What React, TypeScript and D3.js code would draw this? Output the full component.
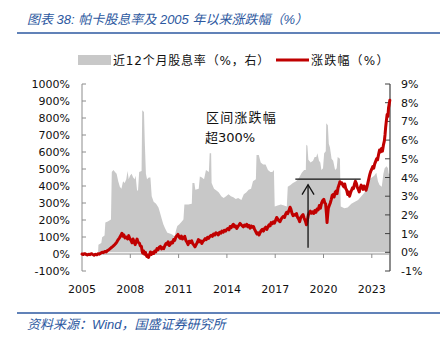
import React from 'react';
import * as d3 from 'd3';

const yearTicks = [2005, 2008, 2011, 2014, 2017, 2020, 2023];
const leftTicks = d3.range(-100, 1001, 100);
const rightTicks = d3.range(-1, 10, 1);

const titleText = '图表 38:  帕卡股息率及 2005 年以来涨跌幅（%）';
const sourceText = '资料来源：Wind，国盛证券研究所';
const legendYield = '近12个月股息率（%，右）';
const legendChange = '涨跌幅（%）';
const noteLine1 = '区间涨跌幅';
const noteLine2 = '超300%';

// [decimal year, dividend yield %] (right axis)
const dividendYield: [number, number][] = [
  [2006.0, 0], [2006.02, 0.4], [2006.2, 0.5], [2006.25, 0.8], [2006.4, 0.9], [2006.45, 1.6],
  [2006.6, 1.65], [2006.8, 1.75], [2006.85, 4.3], [2006.95, 4.4], [2007.05, 4.3], [2007.15, 4.2],
  [2007.25, 3.8], [2007.35, 3.5], [2007.45, 3.4], [2007.55, 3.8], [2007.65, 3.7], [2007.75, 3.9],
  [2007.83, 4.35], [2007.9, 3.9], [2007.98, 4.1], [2008.08, 4.2], [2008.18, 4.0], [2008.27, 3.9],
  [2008.33, 4.1], [2008.42, 3.3], [2008.48, 3.3], [2008.55, 4.3], [2008.7, 4.35], [2008.74, 7.6],
  [2008.85, 7.5], [2008.9, 5.9], [2008.97, 4.2], [2009.04, 3.9], [2009.15, 4.0], [2009.25, 4.0],
  [2009.33, 3.0], [2009.45, 2.7], [2009.6, 2.6], [2009.75, 2.4], [2009.85, 2.1], [2009.95, 1.8],
  [2010.05, 1.5], [2010.15, 1.3], [2010.3, 1.05], [2010.45, 1.0], [2010.6, 0.95], [2010.75, 0.85],
  [2010.85, 1.2], [2010.92, 1.4], [2011.05, 1.5], [2011.2, 1.65], [2011.3, 1.75], [2011.36, 2.55],
  [2011.6, 2.55], [2011.82, 2.6], [2011.86, 3.7], [2011.98, 3.7], [2012.04, 3.35], [2012.25, 3.4],
  [2012.32, 4.05], [2012.45, 4.0], [2012.58, 3.9], [2012.7, 4.4], [2012.88, 4.3], [2012.93, 5.3],
  [2013.02, 5.3], [2013.05, 3.7], [2013.2, 3.4], [2013.35, 3.3], [2013.5, 3.2], [2013.65, 3.0],
  [2013.8, 2.9], [2013.95, 3.0], [2014.1, 3.1], [2014.25, 3.0], [2014.4, 2.95], [2014.55, 2.85],
  [2014.7, 2.9], [2014.9, 2.8], [2015.05, 3.1], [2015.2, 3.2], [2015.35, 3.35], [2015.5, 3.4],
  [2015.62, 3.8], [2015.8, 3.9], [2015.84, 5.2], [2015.98, 5.2], [2016.1, 4.8], [2016.25, 4.7],
  [2016.4, 4.7], [2016.55, 4.4], [2016.7, 4.3], [2016.82, 4.3], [2016.92, 4.4], [2016.97, 2.45],
  [2017.15, 2.5], [2017.35, 2.55], [2017.55, 2.5], [2017.72, 2.45], [2017.78, 3.5], [2017.95, 3.6],
  [2018.1, 3.7], [2018.3, 3.8], [2018.42, 3.9], [2018.55, 4.1], [2018.65, 4.25], [2018.8, 4.4],
  [2018.9, 4.4], [2018.93, 5.75], [2019.0, 5.7], [2019.06, 4.95], [2019.2, 4.8], [2019.35, 4.9],
  [2019.45, 5.1], [2019.55, 5.1], [2019.62, 5.3], [2019.72, 4.9], [2019.8, 4.8], [2019.87, 4.4],
  [2019.97, 4.5], [2020.04, 5.3], [2020.14, 5.4], [2020.17, 6.9], [2020.27, 6.8], [2020.33, 5.8],
  [2020.4, 5.6], [2020.5, 5.0], [2020.6, 4.9], [2020.72, 4.4], [2020.82, 4.5], [2020.88, 5.1],
  [2021.02, 5.0], [2021.07, 2.45], [2021.3, 2.35], [2021.5, 2.4], [2021.73, 2.6], [2021.95, 2.7],
  [2022.15, 2.8], [2022.35, 3.0], [2022.55, 3.2], [2022.7, 3.5], [2022.85, 3.9], [2023.0, 4.0],
  [2023.15, 4.1], [2023.28, 4.25], [2023.38, 3.8], [2023.48, 3.6], [2023.62, 3.5], [2023.72, 4.2],
  [2023.8, 4.5], [2023.92, 4.6], [2024.0, 4.5], [2024.05, 4.2], [2024.13, 4.2],
];

// [decimal year, cumulative price change % since 2005] (left axis)
const priceChange: [number, number][] = [
  [2005.0, 0], [2005.08, -3], [2005.17, 2], [2005.25, -2], [2005.33, -6], [2005.42, -1],
  [2005.5, -4], [2005.58, 2], [2005.67, -3], [2005.75, -7], [2005.83, -2], [2005.92, -5],
  [2006.0, 2], [2006.08, -1], [2006.17, 6], [2006.25, 10], [2006.33, 8], [2006.42, 15],
  [2006.5, 12], [2006.58, 20], [2006.67, 25], [2006.75, 32], [2006.83, 38], [2006.92, 45],
  [2007.0, 52], [2007.08, 60], [2007.17, 72], [2007.25, 85], [2007.33, 95], [2007.42, 110],
  [2007.48, 122], [2007.54, 105], [2007.6, 112], [2007.67, 95], [2007.75, 100], [2007.83, 88],
  [2007.9, 108], [2007.96, 92], [2008.04, 80], [2008.11, 66], [2008.17, 88], [2008.23, 75],
  [2008.3, 55], [2008.36, 72], [2008.42, 88], [2008.48, 70], [2008.56, 64], [2008.62, 48],
  [2008.69, 45], [2008.73, 20], [2008.77, 5], [2008.83, 18], [2008.89, -2], [2008.95, 8],
  [2009.02, -14], [2009.08, -8], [2009.13, -20], [2009.19, -4], [2009.25, 12], [2009.32, -2],
  [2009.38, 8], [2009.45, 3], [2009.52, 18], [2009.58, 12], [2009.66, 32], [2009.73, 25],
  [2009.8, 40], [2009.87, 45], [2009.94, 30], [2010.02, 38], [2010.08, 32], [2010.15, 50],
  [2010.22, 62], [2010.28, 58], [2010.35, 72], [2010.42, 50], [2010.49, 58], [2010.56, 70],
  [2010.63, 65], [2010.69, 85], [2010.76, 80], [2010.83, 100], [2010.9, 108], [2010.96, 115],
  [2011.03, 100], [2011.1, 92], [2011.17, 105], [2011.24, 88], [2011.31, 95], [2011.38, 104],
  [2011.45, 80], [2011.52, 70], [2011.59, 55], [2011.66, 75], [2011.73, 68], [2011.81, 78],
  [2011.88, 60], [2011.95, 52], [2012.02, 42], [2012.09, 55], [2012.16, 68], [2012.23, 85],
  [2012.3, 72], [2012.37, 78], [2012.44, 62], [2012.51, 75], [2012.58, 80], [2012.65, 90],
  [2012.72, 85], [2012.8, 98], [2012.87, 92], [2012.95, 105], [2013.03, 110], [2013.1, 104],
  [2013.17, 118], [2013.25, 112], [2013.32, 125], [2013.4, 120], [2013.47, 112], [2013.55, 128],
  [2013.62, 122], [2013.69, 135], [2013.77, 128], [2013.84, 140], [2013.92, 135], [2013.99, 145],
  [2014.06, 150], [2014.13, 142], [2014.2, 162], [2014.27, 155], [2014.34, 168], [2014.4, 175],
  [2014.47, 160], [2014.54, 165], [2014.61, 150], [2014.68, 162], [2014.75, 170], [2014.82, 180],
  [2014.89, 172], [2014.96, 165], [2015.02, 160], [2015.09, 170], [2015.16, 165], [2015.23, 175],
  [2015.3, 160], [2015.37, 168], [2015.44, 152], [2015.51, 165], [2015.58, 158], [2015.65, 162],
  [2015.72, 145], [2015.8, 130], [2015.87, 118], [2015.93, 125], [2016.0, 112], [2016.06, 125],
  [2016.13, 138], [2016.2, 145], [2016.27, 135], [2016.34, 150], [2016.41, 158], [2016.48, 145],
  [2016.55, 160], [2016.62, 172], [2016.68, 165], [2016.75, 185], [2016.82, 178], [2016.89, 190],
  [2016.96, 182], [2017.03, 200], [2017.09, 215], [2017.16, 205], [2017.23, 195], [2017.3, 190],
  [2017.37, 205], [2017.44, 215], [2017.51, 222], [2017.58, 215], [2017.65, 235], [2017.71, 245],
  [2017.78, 238], [2017.85, 255], [2017.92, 275], [2017.97, 265], [2018.04, 240], [2018.11, 225],
  [2018.18, 232], [2018.25, 228], [2018.32, 238], [2018.39, 215], [2018.46, 205], [2018.52, 190],
  [2018.59, 215], [2018.66, 225], [2018.73, 232], [2018.8, 210], [2018.87, 195], [2018.94, 172],
  [2019.0, 200], [2019.06, 230], [2019.12, 245], [2019.18, 252], [2019.25, 240], [2019.32, 248],
  [2019.39, 238], [2019.46, 255], [2019.53, 245], [2019.6, 265], [2019.67, 260], [2019.74, 285],
  [2019.81, 270], [2019.88, 300], [2019.95, 315], [2020.02, 322], [2020.08, 300], [2020.13, 295],
  [2020.18, 240], [2020.22, 185], [2020.26, 230], [2020.3, 270], [2020.36, 285], [2020.42, 300],
  [2020.48, 320], [2020.54, 345], [2020.6, 350], [2020.66, 335], [2020.72, 362], [2020.78, 370],
  [2020.84, 355], [2020.9, 390], [2020.96, 405], [2021.02, 425], [2021.08, 415], [2021.14, 418],
  [2021.2, 405], [2021.26, 395], [2021.32, 412], [2021.38, 385], [2021.44, 375], [2021.5, 350],
  [2021.56, 365], [2021.62, 340], [2021.68, 360], [2021.74, 375], [2021.8, 390], [2021.86, 385],
  [2021.92, 410], [2021.98, 428], [2022.04, 415], [2022.1, 392], [2022.16, 380], [2022.22, 365],
  [2022.28, 390], [2022.34, 405], [2022.4, 395], [2022.46, 380], [2022.52, 400], [2022.58, 390],
  [2022.64, 375], [2022.7, 395], [2022.76, 420], [2022.82, 445], [2022.88, 470], [2022.94, 488],
  [2023.0, 500], [2023.06, 515], [2023.12, 505], [2023.18, 530], [2023.24, 545], [2023.3, 560],
  [2023.36, 555], [2023.42, 585], [2023.48, 612], [2023.54, 600], [2023.6, 620], [2023.66, 605],
  [2023.72, 640], [2023.78, 665], [2023.82, 700], [2023.86, 745], [2023.9, 780], [2023.95, 820],
  [2024.0, 810], [2024.04, 860], [2024.08, 880], [2024.12, 905],
];

// annotation: range-change arrow (decimal years / left-axis %)
const arrowYear = 2019.04;
const arrowFrom = 37;
const arrowTo = 408;
const capFrom = 2018.25;
const capTo = 2022.31;
const capLevel = 441;
const noteYear = 2012.7;
const noteLevel1 = 775;
const noteLevel2 = 660;

const BLUE = '#2C58A0';
const RED = '#C00000';
const GREY_FILL = '#C8C8C8';
const AXIS_FONT = '"DejaVu Sans", "Noto Sans CJK SC", sans-serif';
const CJK_FONT = '"DejaVu Sans", "Noto Sans CJK SC", sans-serif';
const TITLE_FONT = '"Liberation Sans", "Noto Sans CJK SC", sans-serif';

export default function App() {
  const x = d3.scaleLinear().domain([2005, 2024.13]).range([82, 390]);
  const yL = d3.scaleLinear().domain([-100, 1000]).range([271, 84]);
  const yR = d3.scaleLinear().domain([-1, 9]).range([271, 84]);

  const area = d3
    .area<[number, number]>()
    .x((d) => x(d[0]))
    .y0(yR(0))
    .y1((d) => yR(d[1]));
  const line = d3
    .line<[number, number]>()
    .x((d) => x(d[0]))
    .y((d) => yL(d[1]));

  const y0 = yL(0);
  const ax = x(arrowYear);
  const tipY = yL(arrowTo);

  return (
    <svg
      width={446}
      height={348}
      style={{ position: 'absolute', left: 0, top: 0, background: '#fff' }}
    >
      <rect x={0} y={0} width={446} height={348} fill="#fff" />
      {/* title */}
      <text
        x={27}
        y={24}
        fontFamily={TITLE_FONT}
        fontSize={13}
        fontStyle="italic"
        fill={BLUE}
      >
        {titleText}
      </text>
      <line x1={17} x2={440} y1={33} y2={33} stroke={BLUE} strokeWidth={1.6} />

      {/* legend */}
      <rect x={78} y={55} width={33} height={10} fill={GREY_FILL} />
      <text x={113} y={64.5} fontFamily={CJK_FONT} fontSize={12} letterSpacing={0.8} fill="#111">
        {legendYield}
      </text>
      <line x1={276} x2={309} y1={60} y2={60} stroke={RED} strokeWidth={3} />
      <text x={311} y={64.5} fontFamily={CJK_FONT} fontSize={12} letterSpacing={1.2} fill="#111">
        {legendChange}
      </text>

      {/* dividend yield area */}
      <path d={area(dividendYield) || ''} fill={GREY_FILL} />

      {/* axes */}
      <line x1={82} x2={82} y1={yL(1000)} y2={yL(-100)} stroke="#8c8c8c" strokeWidth={1} />
      {leftTicks.map((t) => (
        <g key={'l' + t}>
          <line x1={82} x2={86} y1={yL(t)} y2={yL(t)} stroke="#8c8c8c" />
          <text
            x={70}
            y={yL(t) + 4}
            textAnchor="end"
            fontFamily={AXIS_FONT}
            fontSize={11}
            fill="#111"
          >
            {t + '%'}
          </text>
        </g>
      ))}
      <line x1={390} x2={390} y1={yR(9)} y2={yR(-1)} stroke="#404040" strokeWidth={1.2} />
      {rightTicks.map((t) => (
        <g key={'r' + t}>
          <line x1={385} x2={390} y1={yR(t)} y2={yR(t)} stroke="#404040" />
          <text
            x={401}
            y={yR(t) + 4}
            textAnchor="start"
            fontFamily={AXIS_FONT}
            fontSize={11}
            fill="#111"
          >
            {t + '%'}
          </text>
        </g>
      ))}
      <line x1={82} x2={390} y1={y0} y2={y0} stroke="#8c8c8c" strokeWidth={1} />
      {yearTicks.map((t) => (
        <g key={'x' + t}>
          {t !== 2005 && (
            <line x1={x(t)} x2={x(t)} y1={y0} y2={y0 + 4} stroke="#8c8c8c" />
          )}
          <text
            x={x(t)}
            y={293}
            textAnchor="middle"
            fontFamily={AXIS_FONT}
            fontSize={11}
            fill="#111"
          >
            {t}
          </text>
        </g>
      ))}

      {/* price change line */}
      <path
        d={line(priceChange) || ''}
        fill="none"
        stroke={RED}
        strokeWidth={3}
        strokeLinejoin="round"
        strokeLinecap="round"
      />

      {/* annotation */}
      <text x={x(noteYear)} y={yL(noteLevel1)} fontFamily={CJK_FONT} fontSize={13} letterSpacing={1.2} fill="#111">
        {noteLine1}
      </text>
      <text x={x(noteYear) - 1} y={yL(noteLevel2)} fontFamily={CJK_FONT} fontSize={13} fill="#111">
        {noteLine2}
      </text>
      <line x1={x(capFrom)} x2={x(capTo)} y1={yL(capLevel)} y2={yL(capLevel)} stroke="#111" strokeWidth={1.3} />
      <line x1={ax} x2={ax} y1={yL(arrowFrom)} y2={tipY} stroke="#111" strokeWidth={1.3} />
      <polyline
        points={`${ax - 6},${tipY + 10} ${ax},${tipY} ${ax + 6},${tipY + 10}`}
        fill="none"
        stroke="#111"
        strokeWidth={1.3}
      />

      {/* footer */}
      <line x1={17} x2={440} y1={313} y2={313} stroke={BLUE} strokeWidth={1.6} />
      <text
        x={27}
        y={329}
        fontFamily={TITLE_FONT}
        fontSize={13}
        fontStyle="italic"
        fill={BLUE}
      >
        {sourceText}
      </text>
    </svg>
  );
}
